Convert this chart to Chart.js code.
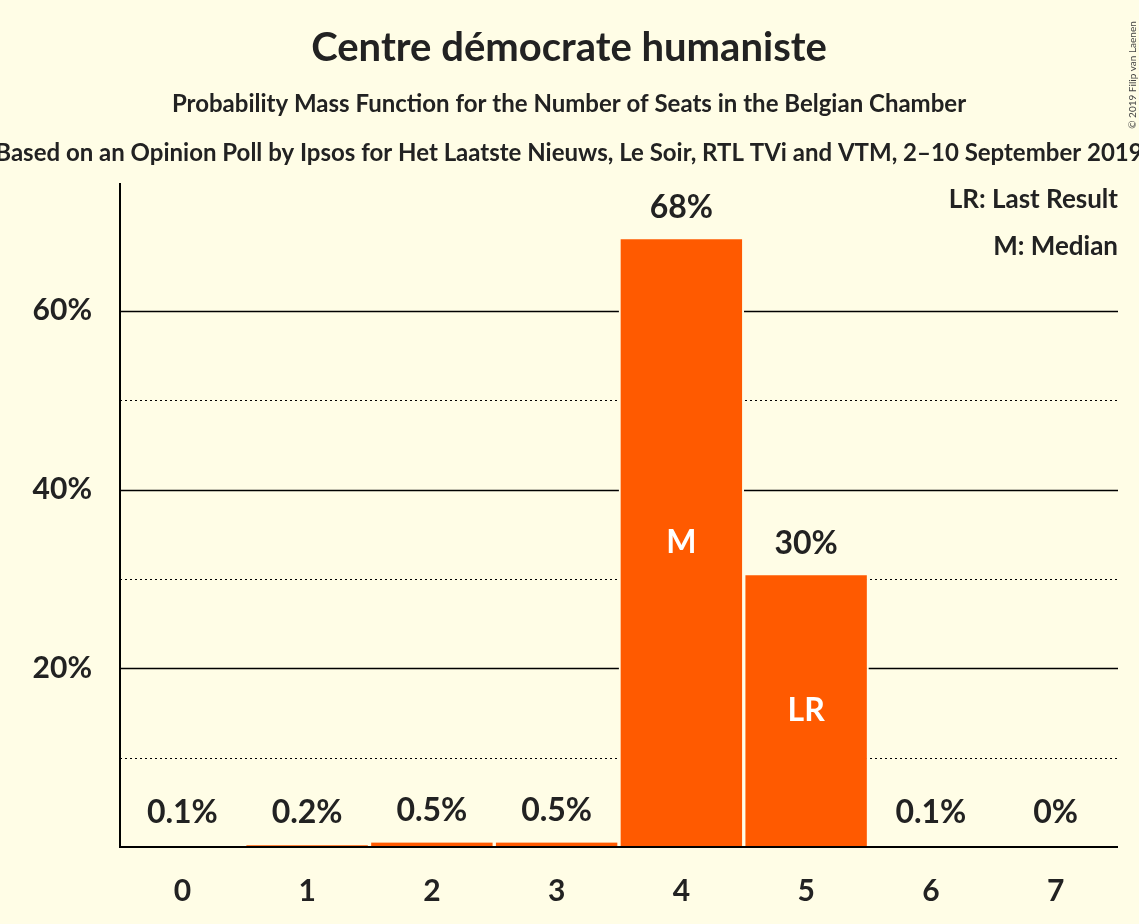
<!DOCTYPE html>
<html><head><meta charset="utf-8">
<script src="https://cdn.jsdelivr.net/npm/chart.js@4"></script>
<style>body{margin:0;background:#FFFDE6}canvas{display:block}</style>
</head><body>
<canvas id="c" width="1139" height="924"></canvas>
<script>
const categories=["0","1","2","3","4","5","6","7"];
const probabilities=[0.1,0.2,0.5,0.5,68,30.4,0.1,0];
const valueLabels=["0.1%","0.2%","0.5%","0.5%","68%","30%","0.1%","0%"];
const innerLabels=["","","","","M","LR","",""];
const solidTicks=[20,40,60];
const dottedTicks=[10,30,50];
const BG="#FFFDE6",F="Lato, 'DejaVu Sans', sans-serif";
const deco={id:"deco",
beforeDatasetsDraw(ch){const c=ch.ctx,a=ch.chartArea,y=ch.scales.y;c.save();c.lineWidth=1.5;c.strokeStyle="#000";
for(const v of solidTicks){const p=Math.round(y.getPixelForValue(v))+.5;c.setLineDash([]);c.beginPath();c.moveTo(a.left,p);c.lineTo(a.right,p);c.stroke();}
c.lineWidth=1;for(const v of dottedTicks){const p=Math.round(y.getPixelForValue(v))+.5;c.setLineDash([2,3]);c.beginPath();c.moveTo(a.left,p);c.lineTo(a.right,p);c.stroke();}
c.restore();},
afterDatasetsDraw(ch){const c=ch.ctx,a=ch.chartArea,m=ch.getDatasetMeta(0);c.save();
c.strokeStyle="#000";c.lineWidth=2;c.beginPath();c.moveTo(a.left,a.top);c.lineTo(a.left,a.bottom);c.lineTo(a.right,a.bottom);c.stroke();
c.textAlign="center";c.textBaseline="middle";c.font="bold 32px "+F;
m.data.forEach((b,i)=>{c.fillStyle="#222";c.fillText(valueLabels[i],b.x,Math.min(b.y,a.bottom-2)-32);
if(innerLabels[i]){c.fillStyle="#fff";c.fillText(innerLabels[i],b.x,(b.y+a.bottom)/2);}});
c.fillStyle="#222";c.font="bold 40px "+F;c.fillText("Centre démocrate humaniste",569,48);
c.font="bold 24px "+F;c.fillText("Probability Mass Function for the Number of Seats in the Belgian Chamber",569,104);
c.fillText("Based on an Opinion Poll by Ipsos for Het Laatste Nieuws, Le Soir, RTL TVi and VTM, 2–10 September 2019",569,153);
c.textAlign="right";c.font="bold 26px "+F;c.fillText("LR: Last Result",1118,200);c.fillText("M: Median",1118,247);
c.translate(1133,75);c.rotate(-Math.PI/2);c.textAlign="center";c.font="10px "+F;c.fillStyle="#444";c.fillText("© 2019 Filip van Laenen",0,0);
c.restore();}};
new Chart(document.getElementById("c"),{type:"bar",
data:{labels:categories,datasets:[{data:probabilities,backgroundColor:"#FF5A00",borderColor:BG,borderWidth:{left:2,right:2,top:0,bottom:0},borderSkipped:false,barPercentage:1,categoryPercentage:1}]},
options:{responsive:false,animation:false,layout:{padding:{top:183,right:21,left:0,bottom:0}},
plugins:{legend:{display:false},tooltip:{enabled:false}},
scales:{x:{grid:{display:false},border:{display:false},afterFit(s){s.height=77;},ticks:{color:"#222",font:{family:F,size:30,weight:"bold"},padding:18}},
y:{min:0,max:74.3,afterFit(s){s.width=120;},grid:{display:false},border:{display:false},afterBuildTicks(s){s.ticks=solidTicks.map(v=>({value:v}));},
ticks:{color:"#222",font:{family:F,size:30,weight:"bold"},padding:20,callback:v=>v+"%"}}}},
plugins:[deco]});
</script></body></html>
